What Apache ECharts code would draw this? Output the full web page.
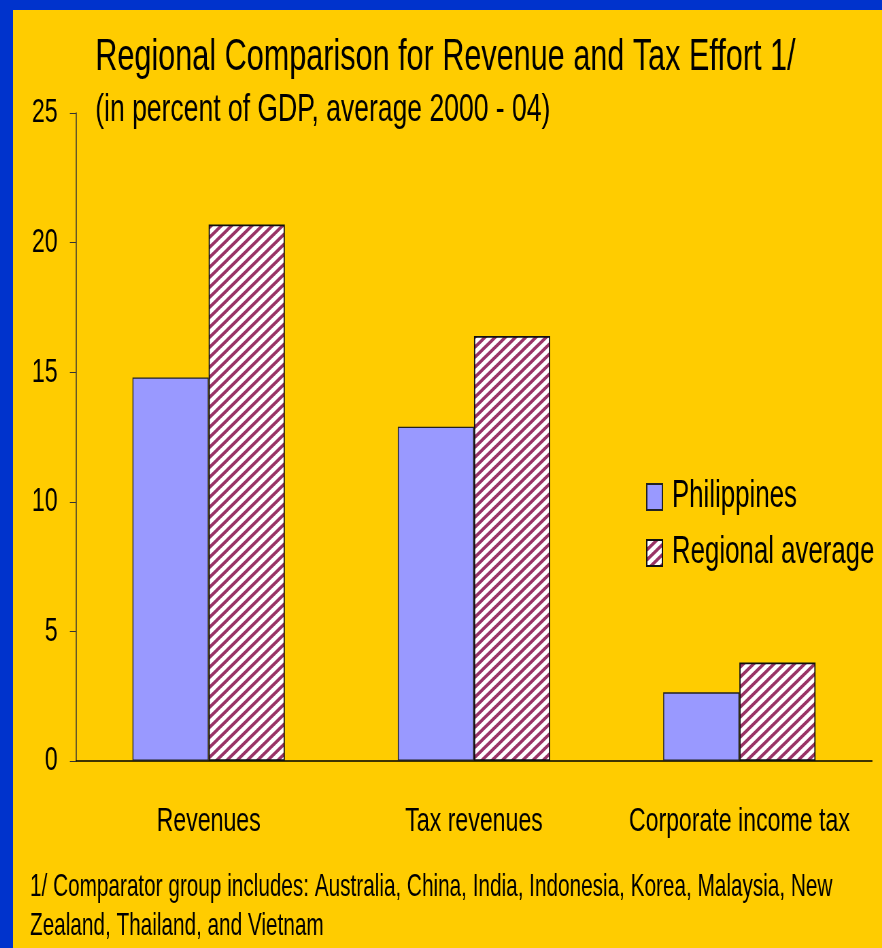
<!DOCTYPE html>
<html>
<head>
<meta charset="utf-8">
<script src="https://cdn.jsdelivr.net/npm/echarts@6/dist/echarts.min.js"></script>
<style>
  html, body { margin: 0; padding: 0; background: #0033CC; width: 882px; height: 948px; overflow: hidden; }
  /* slide-style condensed rendering: drawn wide, squeezed horizontally */
  #chart { position: absolute; left: 13px; top: 10px; width: 1278px; height: 938px;
           transform: scaleX(0.68); transform-origin: 0 0; }
</style>
</head>
<body>
<div id="chart"></div>
<script>
// Revenue and tax effort, percent of GDP (average 2000-04)
const categories = ['Revenues', 'Tax revenues', 'Corporate income tax'];
const philippines = [14.8, 12.9, 2.65];
const regionalAverage = [20.7, 16.4, 3.8];
const yTicks = { min: 0, max: 25, interval: 5 };

const FONT = '"Liberation Sans", Arial, sans-serif';

// Diagonal maroon-on-white hatch fill
function hatch() {
  const w = 15, h = 10;
  const c = document.createElement('canvas');
  c.width = w; c.height = h;
  const g = c.getContext('2d');
  g.fillStyle = '#ffffff';
  g.fillRect(0, 0, w, h);
  g.strokeStyle = '#993366';
  g.lineWidth = 3.6;
  g.beginPath();
  for (const o of [-w, 0, w]) {
    g.moveTo(o - 3, h + 2); g.lineTo(o + w + 3, -2);
  }
  g.stroke();
  return c;
}

const chart = echarts.init(document.getElementById('chart'), null, { renderer: 'canvas' });
chart.setOption({
  backgroundColor: '#FFCC00',
  animation: false,
  title: [
    {
      text: 'Regional Comparison for Revenue and Tax Effort 1/',
      left: 116, top: 20,
      textStyle: { fontFamily: FONT, fontSize: 45, fontWeight: 'normal', color: '#000' }
    },
    {
      text: '(in percent of GDP, average 2000 - 04)',
      left: 116, top: 76,
      textStyle: { fontFamily: FONT, fontSize: 39, fontWeight: 'normal', color: '#000' }
    }
  ],
  legend: {
    orient: 'vertical',
    left: 926, top: 463,
    itemWidth: 23, itemHeight: 26, itemGap: 18,
    icon: 'rect',
    textStyle: { fontFamily: FONT, fontSize: 38, color: '#000', padding: [0, 0, 0, 9] },
    data: ['Philippines', 'Regional average']
  },
  grid: { left: 92.6, right: 14.7, top: 103, bottom: 187, containLabel: false },
  xAxis: {
    type: 'category',
    data: categories,
    axisLine: { lineStyle: { color: '#000', width: 1.5 } },
    axisTick: { alignWithLabel: false, length: 11, lineStyle: { color: '#333', width: 1.5 } },
    axisLabel: { interval: 0, fontFamily: FONT, fontSize: 34, color: '#000', margin: 44 }
  },
  yAxis: {
    type: 'value',
    min: yTicks.min, max: yTicks.max, interval: yTicks.interval,
    axisLine: { show: true, lineStyle: { color: '#333', width: 1.5 } },
    axisTick: { show: true, length: 9, lineStyle: { color: '#333' } },
    splitLine: { show: false },
    axisLabel: { fontFamily: FONT, fontSize: 34, color: '#000', margin: 27 }
  },
  series: [
    {
      name: 'Philippines',
      type: 'bar',
      data: philippines,
      barWidth: '28.7%',
      barGap: '0%',
      itemStyle: { color: '#9999FF', borderColor: '#222', borderWidth: 1.4 }
    },
    {
      name: 'Regional average',
      type: 'bar',
      data: regionalAverage,
      barWidth: '28.7%',
      itemStyle: { color: { image: hatch(), repeat: 'repeat' }, borderColor: '#111', borderWidth: 1.8 }
    }
  ],
  graphic: [
    {
      type: 'text',
      left: 25, top: 858,
      style: {
        text: '1/ Comparator group includes: Australia, China, India, Indonesia, Korea, Malaysia, New\nZealand, Thailand, and Vietnam',
        fontFamily: FONT, fontSize: 30.5, lineHeight: 39, fill: '#000'
      }
    }
  ]
});
</script>
</body>
</html>
